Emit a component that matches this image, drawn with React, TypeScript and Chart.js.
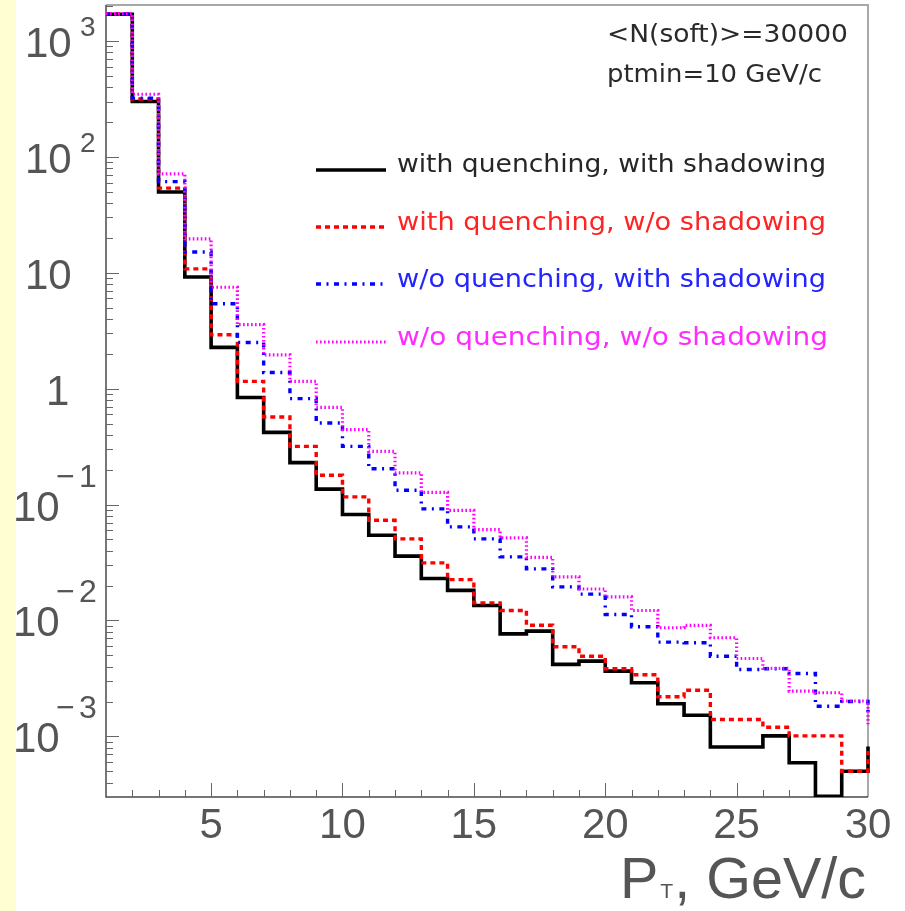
import React, { useEffect, useRef } from "react";
import { Chart, registerables } from "chart.js";

Chart.register(...registerables);

// Lower edges of the 1 GeV/c wide pT bins; the last entry (30) starts the
// bin beyond the axis, only its rising edge at pT = 30 is visible.
const BIN_EDGES = [1, 2, 3, 4, 5, 6, 7, 8, 9, 10, 11, 12, 13, 14, 15, 16, 17, 18, 19, 20, 21, 22, 23, 24, 25, 26, 27, 28, 29, 30];

// Yields per bin (0 = empty bin).
const WITH_QUENCH_WITH_SHADOW = [
  1700, 300, 49.7, 9.2, 2.27, 0.84, 0.42, 0.23, 0.136, 0.082,
  0.0544, 0.0359, 0.023, 0.0182, 0.01346, 0.00767, 0.0081, 0.00418, 0.00446, 0.00366,
  0.0029, 0.00191, 0.00152, 0.00081, 0.00081, 0.00101, 0.000593, 0, 0.000501, 0.00082,
];
const WITH_QUENCH_NO_SHADOW = [
  1700, 316, 53.7, 10.8, 2.92, 1.156, 0.57, 0.318, 0.179, 0.1165,
  0.0733, 0.0506, 0.0314, 0.0225, 0.0142, 0.0122, 0.0091, 0.00593, 0.00492, 0.00383,
  0.0034, 0.0022, 0.0025, 0.0014, 0.0014, 0.0012, 0.00101, 0.00101, 0.0005, 0.00075,
];
const NO_QUENCH_WITH_SHADOW = [
  1700, 321, 61.2, 15.1, 5.4, 2.5, 1.38, 0.82, 0.506, 0.318,
  0.204, 0.133, 0.0918, 0.0642, 0.0506, 0.0354, 0.0279, 0.0195, 0.0169, 0.01127,
  0.00883, 0.0065, 0.00643, 0.00492, 0.00378, 0.00383, 0.00349, 0.00182, 0.002, 0.0015,
];
const NO_QUENCH_NO_SHADOW = [
  1720, 347, 71.3, 19.6, 7.5, 3.57, 1.96, 1.156, 0.69, 0.443,
  0.288, 0.1877, 0.1277, 0.0893, 0.0609, 0.0516, 0.0351, 0.0238, 0.0187, 0.016,
  0.0122, 0.00866, 0.00906, 0.0071, 0.0047, 0.00386, 0.00246, 0.00238, 0.00202, 0.00127,
];

const SERIES_LABELS = [
  "with quenching, with shadowing",
  "with quenching, w/o shadowing",
  "w/o quenching, with shadowing",
  "w/o quenching, w/o shadowing",
];

const INFO_LINES = ["<N(soft)>=30000", "ptmin=10 GeV/c"];

const X_TICK_LABELS = [5, 10, 15, 20, 25, 30];
const Y_DECADES = [-3, -2, -1, 0, 1, 2, 3];

const X_MIN = 1;
const X_MAX = 30;
const Y_MIN = 3.04e-4;
const Y_MAX = 2043;

// Line styles per series: colour, dash pattern, width, label colour.
const STYLES = [
  { color: "#000000", dash: [] as number[], width: 3.6, text: "#262626" },
  { color: "#ff0000", dash: [5, 4], width: 3.4, text: "#ff2424" },
  { color: "#0000ff", dash: [5, 5.5, 2, 5.5], width: 3.4, text: "#2424ff" },
  { color: "#ff00ff", dash: [1.6, 2.4], width: 3.2, text: "#ff2cff" },
];

const SERIES_VALUES = [
  WITH_QUENCH_WITH_SHADOW,
  WITH_QUENCH_NO_SHADOW,
  NO_QUENCH_WITH_SHADOW,
  NO_QUENCH_NO_SHADOW,
];

const AXIS_FONT = "'Liberation Sans', Arial, sans-serif";
const TEXT_FONT = "'DejaVu Sans', 'Noto Sans', sans-serif";
const AXIS_GREY = "#555555";

// Draw text stretched horizontally so that it spans exactly `width` pixels.
function fitText(
  ctx: CanvasRenderingContext2D,
  text: string,
  x: number,
  baseline: number,
  width: number,
  font: string,
  color: string
) {
  ctx.save();
  ctx.font = font;
  const w = ctx.measureText(text).width;
  ctx.translate(x, baseline);
  ctx.scale(width / w, 1);
  ctx.fillStyle = color;
  ctx.textAlign = "left";
  ctx.textBaseline = "alphabetic";
  ctx.fillText(text, 0, 0);
  ctx.restore();
}

const backgroundPlugin = {
  id: "pageBackground",
  beforeDraw(chart: any) {
    const ctx = chart.ctx as CanvasRenderingContext2D;
    ctx.save();
    ctx.fillStyle = "#ffffff";
    ctx.fillRect(0, 0, chart.width, chart.height);
    ctx.fillStyle = "#fffdd2";
    ctx.fillRect(0, 0, 16, chart.height);
    ctx.restore();
  },
};

// Frame and inward-pointing ticks, ROOT style.
const framePlugin = {
  id: "rootFrame",
  beforeDatasetsDraw(chart: any) {
    const ctx = chart.ctx as CanvasRenderingContext2D;
    const a = chart.chartArea;
    const xs = chart.scales.x;
    const ys = chart.scales.y;
    ctx.save();

    // top and right frame edges
    ctx.strokeStyle = "#a8a8a8";
    ctx.lineWidth = 2;
    ctx.beginPath();
    ctx.moveTo(a.left, a.top);
    ctx.lineTo(a.right, a.top);
    ctx.lineTo(a.right, a.bottom);
    ctx.stroke();

    // axis lines
    ctx.strokeStyle = "#4a4a4a";
    ctx.lineWidth = 1.5;
    ctx.beginPath();
    ctx.moveTo(a.left, a.top);
    ctx.lineTo(a.left, a.bottom);
    ctx.lineTo(a.right, a.bottom);
    ctx.stroke();

    ctx.strokeStyle = "#666666";
    ctx.lineWidth = 1;
    ctx.beginPath();
    for (let v = X_MIN + 1; v < X_MAX; v++) {
      const px = Math.round(xs.getPixelForValue(v)) + 0.5;
      const len = v % 5 === 0 ? 14 : 7;
      ctx.moveTo(px, a.bottom);
      ctx.lineTo(px, a.bottom - len);
    }
    for (let e = -4; e <= 3; e++) {
      for (let m = 1; m <= 9; m++) {
        const v = m * Math.pow(10, e);
        if (v <= Y_MIN || v >= Y_MAX) continue;
        const py = Math.round(ys.getPixelForValue(v)) + 0.5;
        const len = m === 1 ? 13 : 7;
        ctx.moveTo(a.left, py);
        ctx.lineTo(a.left + len, py);
      }
    }
    ctx.stroke();
    ctx.restore();
  },
  afterDraw(chart: any) {
    const ctx = chart.ctx as CanvasRenderingContext2D;
    const a = chart.chartArea;
    const xs = chart.scales.x;
    const ys = chart.scales.y;
    ctx.save();
    ctx.fillStyle = AXIS_GREY;
    ctx.textBaseline = "alphabetic";

    // x tick labels
    ctx.font = `42px ${AXIS_FONT}`;
    ctx.textAlign = "center";
    for (const v of X_TICK_LABELS) {
      ctx.fillText(String(v), xs.getPixelForValue(v), a.bottom + 41);
    }

    // y tick labels: 10^n with superscript exponent
    ctx.textAlign = "left";
    for (const e of Y_DECADES) {
      const py = ys.getPixelForValue(Math.pow(10, e));
      ctx.font = `42px ${AXIS_FONT}`;
      if (e === 0) {
        ctx.fillText("1", 46, py + 16);
      } else if (e > 0) {
        ctx.fillText("10", 25, py + 16);
        if (e > 1) {
          ctx.font = `28px ${AXIS_FONT}`;
          ctx.fillText(String(e), 80, py - 5);
        }
      } else {
        ctx.fillText("10", 13, py + 16);
        ctx.font = `32px ${AXIS_FONT}`;
        ctx.fillText("\u2212", 56, py - 18);
        ctx.fillText(String(-e), 79, py - 18);
      }
    }

    // x axis title: P_T, GeV/c
    {
      const big = `57px ${AXIS_FONT}`;
      const small = `21px ${AXIS_FONT}`;
      ctx.font = big;
      const wP = ctx.measureText("P").width;
      const wRest = ctx.measureText(", GeV/c").width;
      ctx.font = small;
      const wT = ctx.measureText("T").width;
      const total = wP + wT + 3 + wRest;
      const left = 620;
      const right = 866;
      const sx = (right - left) / total;
      const base = 898;
      ctx.save();
      ctx.translate(left, base);
      ctx.scale(sx, 1);
      ctx.font = big;
      ctx.fillText("P", 0, 0);
      ctx.font = small;
      ctx.fillText("T", wP + 2, 0);
      ctx.font = big;
      ctx.fillText(", GeV/c", wP + wT + 3, 0);
      ctx.restore();
    }

    // run information
    fitText(ctx, INFO_LINES[0], 607, 42, 241, `25px ${TEXT_FONT}`, "#2a2a2a");
    fitText(ctx, INFO_LINES[1], 607, 82, 215, `25px ${TEXT_FONT}`, "#2a2a2a");

    // legend
    const lineY = [170, 227, 284, 342];
    const textBase = [172, 230, 287, 345];
    const textRight = [826, 826, 826, 828];
    SERIES_LABELS.forEach((label, i) => {
      const st = STYLES[i];
      ctx.save();
      ctx.strokeStyle = st.color;
      ctx.lineWidth = st.width;
      ctx.setLineDash(st.dash);
      ctx.beginPath();
      ctx.moveTo(316, lineY[i]);
      ctx.lineTo(386, lineY[i]);
      ctx.stroke();
      ctx.restore();
      fitText(ctx, label, 397, textBase[i], textRight[i] - 397, `25px ${TEXT_FONT}`, st.text);
    });

    ctx.restore();
  },
};

export default function App() {
  const ref = useRef<HTMLCanvasElement>(null);

  useEffect(() => {
    const canvas = ref.current;
    if (!canvas) return;

    // Chart.js paints higher `order` first, so the black histogram lies at the
    // bottom and the magenta one on top.
    const datasets = SERIES_VALUES.map((vals, i) => ({
      label: SERIES_LABELS[i],
      // empty bins sit on the lower edge of the log axis
      data: BIN_EDGES.map((x, j) => ({ x, y: vals[j] === 0 ? Y_MIN : vals[j] })),
      borderColor: STYLES[i].color,
      borderWidth: STYLES[i].width,
      borderDash: STYLES[i].dash,
      stepped: true as const,
      fill: false,
      pointRadius: 0,
      tension: 0,
      order: SERIES_VALUES.length - 1 - i,
      clip: { left: 0, top: 0, right: 3, bottom: 0 },
    }));

    const chart = new Chart(canvas, {
      type: "line",
      data: { datasets },
      options: {
        responsive: false,
        animation: false,
        devicePixelRatio: 1,
        layout: { padding: { left: 106, top: 5, right: 37, bottom: 114 } },
        scales: {
          x: { type: "linear", min: X_MIN, max: X_MAX, display: false },
          y: { type: "logarithmic", min: Y_MIN, max: Y_MAX, display: false },
        },
        plugins: {
          legend: { display: false },
          tooltip: { enabled: false },
        },
        events: [],
      },
      plugins: [backgroundPlugin, framePlugin],
    });

    return () => chart.destroy();
  }, []);

  return (
    <div style={{ position: "absolute", left: 0, top: 0, width: 905, height: 911, background: "#ffffff" }}>
      <canvas ref={ref} width={905} height={911} style={{ display: "block", width: 905, height: 911 }} />
    </div>
  );
}
